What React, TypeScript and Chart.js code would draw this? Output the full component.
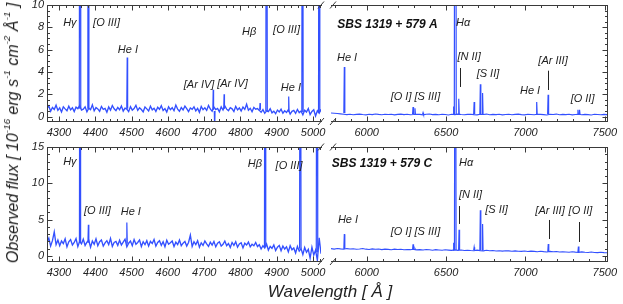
import React, { useEffect, useRef } from "react";
import { Chart, registerables } from "chart.js";
Chart.register(...registerables);

const FONT = '"Liberation Sans", Arial, Helvetica, sans-serif';
const SPEC = "#3350ff";
const INK = "#222222";
const FRAME = "#3a3a3a";

// ---------- sampling wavelengths (Å) ----------
const leftWave = [
  4267,4272,4277,4282,4287,4292,4297,4302,4307,4312,4317,4322,4327,4332,4337,4342,4347,4352,4357,4362,
  4367,4372,4377,4382,4387,4392,4397,4402,4407,4412,4417,4422,4427,4432,4437,4442,4447,4452,4457,4462,
  4467,4472,4477,4482,4487,4492,4497,4502,4507,4512,4517,4522,4527,4532,4537,4542,4547,4552,4557,4562,
  4567,4572,4577,4582,4587,4592,4597,4602,4607,4612,4617,4622,4627,4632,4637,4642,4647,4652,4657,4662,
  4667,4672,4677,4682,4687,4692,4697,4702,4707,4712,4717,4722,4727,4732,4737,4742,4747,4752,4757,4762,
  4767,4772,4777,4782,4787,4792,4797,4802,4807,4812,4817,4822,4827,4832,4837,4842,4847,
  4852,4857,4862,4867,4872,4877,4882,4887,4892,4897,4902,4907,4912,4917,4922,4927,4932,4937,4942,4947,
  4952,4957,4962,4967,4972,4977,4982,4987,4992,4997,5002,5007,5012,5017,5022,
];
const rightWave = [
  5775,5795,5815,5835,5855,5875,5895,5915,5935,5955,5975,5995,6015,6035,6055,6075,6095,6115,6135,6155,
  6175,6195,6215,6235,6255,6275,6295,6315,6335,6355,6375,6395,6415,6435,6455,6475,6495,6515,6535,6555,
  6575,6595,6615,6635,6655,6675,6695,6715,6735,6755,6775,6795,6815,6835,6855,6875,6895,6915,6935,6955,
  6975,6995,7015,7035,7055,7075,7095,7115,7135,7155,7175,7195,7215,7235,7255,7275,7295,7315,7335,7355,
  7375,7395,7415,7435,7455,7475,7495,7515,
];

// ---------- continuum flux (10^-16 erg s^-1 cm^-2 Å^-1) ----------
const fluxA_blue = [
  0.72,0.95,0.48,0.81,0.63,1.02,0.55,0.77,0.41,0.88,0.69,0.52,0.93,0.60,0.79,0.45,0.84,0.71,0.98,0.58,
  0.66,0.87,0.43,0.75,0.62,1.05,0.51,0.80,0.68,0.47,0.90,0.64,0.73,0.39,0.86,0.57,0.99,0.70,0.53,0.82,
  0.61,0.94,0.49,0.76,0.67,0.44,0.89,0.58,0.72,1.01,0.55,0.78,0.63,0.42,0.85,0.69,0.50,0.92,0.60,0.74,
  0.46,0.83,0.65,0.97,0.54,0.71,0.40,0.88,0.62,0.79,0.52,1.03,0.67,0.48,0.81,0.59,0.93,0.70,0.44,0.76,
  0.64,0.87,0.51,0.73,0.38,0.90,0.61,0.78,0.55,0.99,0.68,0.47,0.84,0.63,0.72,0.42,0.86,0.58,0.95,0.66,
  0.53,0.80,0.69,0.45,0.91,0.60,0.77,0.50,0.85,0.64,1.10,0.57,0.74,0.43,0.82,0.66,0.71,
  0.55,0.38,0.62,0.29,0.51,0.44,0.70,0.33,0.48,0.25,0.58,0.41,0.66,0.30,0.52,0.37,0.61,0.22,0.47,0.55,
  0.28,0.63,0.35,0.49,0.15,0.57,0.40,0.72,0.18,0.45,0.60,0.05,0.52,0.30,0.65,
];
const fluxA_red = [
  0.32,0.30,0.27,0.24,0.20,0.17,0.21,0.16,0.19,0.22,0.18,0.15,0.20,0.17,0.23,0.19,0.16,0.21,0.18,0.20,
  0.15,0.19,0.22,0.17,0.20,0.16,0.18,0.21,0.19,0.15,0.20,0.23,0.17,0.19,0.16,0.21,0.18,0.14,0.20,0.17,
  0.22,0.18,0.16,0.19,0.21,0.17,0.15,0.20,0.18,0.22,0.16,0.19,0.17,0.21,0.15,0.18,0.20,0.16,0.19,0.22,
  0.17,0.15,0.20,0.18,0.16,0.21,0.19,0.17,0.14,0.20,0.18,0.22,0.16,0.19,0.17,0.20,0.15,0.18,0.21,0.16,
  0.19,0.17,0.14,0.20,0.18,0.16,0.19,0.17,
];
const fluxC_blue = [
  1.90,2.45,1.35,2.10,3.30,1.55,2.20,1.40,2.05,1.70,2.35,1.25,1.95,2.25,1.50,1.85,2.40,1.30,2.00,1.65,
  2.30,1.45,1.90,2.15,1.20,2.05,1.60,2.35,1.40,1.95,2.20,1.35,1.80,2.10,1.55,2.40,1.30,1.85,2.00,1.45,
  2.15,1.50,1.90,2.30,1.25,1.75,2.05,1.40,2.25,1.60,1.85,2.20,1.30,1.95,1.55,2.10,1.35,2.00,1.70,2.25,
  1.35,1.85,2.10,1.45,1.95,1.25,2.15,1.60,1.80,2.05,1.30,1.90,1.55,2.20,1.40,1.75,2.00,1.35,1.85,2.85,
  1.30,1.95,1.55,2.10,1.20,1.80,1.45,2.05,1.65,1.30,1.90,1.50,2.00,1.25,1.75,1.95,1.35,1.60,2.05,1.40,
  1.70,1.15,1.85,1.45,1.95,1.20,1.65,1.80,1.10,1.75,1.50,1.90,1.25,1.60,1.40,1.85,1.30,
  1.55,0.95,1.40,1.10,1.65,0.80,1.30,1.05,1.50,0.75,1.20,1.45,0.70,1.35,0.95,1.25,0.55,1.40,0.85,1.10,
  0.40,1.30,0.65,1.00,0.20,1.15,0.50,0.90,-0.30,1.20,0.10,0.80,-0.60,2.50,0.30,
];
const fluxC_red = [
  1.00,0.94,1.03,0.97,0.92,1.01,0.95,0.99,0.91,0.96,1.02,0.93,0.88,0.97,0.92,0.95,0.87,0.93,0.90,0.85,
  0.94,0.88,0.91,0.84,0.89,0.86,0.92,0.83,0.87,0.81,0.88,0.85,0.79,0.86,0.82,0.78,0.84,0.80,0.76,0.83,
  0.77,0.81,0.74,0.79,0.75,0.72,0.80,0.73,0.70,0.77,0.71,0.74,0.68,0.72,0.66,0.71,0.69,0.64,0.70,0.65,
  0.62,0.68,0.60,0.66,0.63,0.58,0.64,0.59,0.55,0.62,0.57,0.60,0.53,0.58,0.55,0.51,0.57,0.52,0.49,0.55,
  0.50,0.47,0.53,0.48,0.45,0.51,0.46,0.44,
];

// ---------- emission lines: [centre Å, peak, local continuum, half-width Å] ----------
type Line = [number, number, number, number];
const linesA_blue: Line[] = [
  [4358, 60, 0.7, 2.0], [4381, 60, 0.7, 1.5], [4488, 5.3, 0.7, 1.2],
  [4725, 2.4, 0.6, 1.0], [4729, -1.2, 0.5, 1.0], [4755, 2.0, 0.7, 1.0],
  [4854, 1.2, 0.6, 1.0], [4872, 60, 0.5, 2.0], [4933, 1.8, 0.45, 1.0],
  [4971, 60, 0.4, 1.8], [5017, 60, 0.4, 1.8],
];
const linesA_red: Line[] = [
  [5859, 4.45, 0.3, 3], [6292, 0.85, 0.2, 3], [6304, 0.75, 0.2, 3], [6355, 0.35, 0.2, 3],
  [6548, 0.9, 0.2, 4], [6558, 80, 0.2, 6], [6580, 1.6, 0.2, 3], [6677, 1.3, 0.2, 3],
  [6716, 2.9, 0.2, 3], [6730, 2.1, 0.2, 3], [7071, 1.3, 0.2, 3], [7143, 1.95, 0.2, 3],
  [7331, 0.6, 0.2, 3], [7341, 0.6, 0.2, 3],
];
const linesC_blue: Line[] = [
  [4358, 80, 1.8, 1.6], [4381, 4.3, 1.8, 1.2], [4487, 4.6, 1.7, 1.2],
  [4868, 80, 1.2, 1.8], [4965, 80, 1.0, 2.0], [5011, 80, 0.5, 2.0],
];
const linesC_red: Line[] = [
  [5859, 3.0, 0.95, 3], [6292, 1.6, 0.85, 3], [6304, 1.0, 0.85, 3],
  [6548, 1.8, 0.8, 4], [6558, 80, 0.8, 5], [6582, 3.6, 0.8, 3], [6677, 1.2, 0.78, 3],
  [6716, 6.3, 0.78, 3], [6730, 4.4, 0.78, 3], [7144, 1.65, 0.58, 3], [7334, 1.3, 0.52, 3],
];

// ---------- annotations: [text, wavelength, flux] ----------
type Label = [string, number, number];
const labelsA_blue: Label[] = [
  ["Hγ", 4330, 8.39], ["[O III]", 4431, 8.39], ["He I", 4490, 5.97],
  ["[Ar IV]", 4686, 2.83], ["[Ar IV]", 4778, 2.92], ["Hβ", 4824, 7.58],
  ["[O III]", 4927, 7.76], ["He I", 4939, 2.56],
];
const labelsA_red: Label[] = [
  ["Hα", 6607, 8.39], ["He I", 5876, 5.25], ["[O I] [S III]", 6307, 1.75],
  ["[N II]", 6645, 5.34], ["[S II]", 6764, 3.81], ["He I", 7029, 2.29],
  ["[Ar III]", 7174, 4.98], ["[O II]", 7360, 1.57],
];
const labelsC_blue: Label[] = [
  ["Hγ", 4330, 12.98], ["[O III]", 4406, 6.19], ["He I", 4498, 6.05],
  ["Hβ", 4840, 12.66], ["[O III]", 4934, 12.38],
];
const labelsC_red: Label[] = [
  ["Hα", 6626, 12.8], ["He I", 5882, 4.95], ["[O I] [S III]", 6307, 3.29],
  ["[N II]", 6654, 8.39], ["[S II]", 6818, 6.32], ["[Ar III]", 7155, 6.19], ["[O II]", 7347, 6.19],
];
// marker bars: [wavelength, flux top, flux bottom]
type Marker = [number, number, number];
const markersA_red: Marker[] = [[6588, 4.35, 2.65], [7142, 4.11, 2.38]];
const markersC_red: Marker[] = [[6584, 6.87, 4.4], [7149, 4.95, 2.33], [7336, 4.67, 1.92]];
const nameA: Label = ["SBS 1319 + 579 A", 6131, 8.21];
const nameC: Label = ["SBS 1319 + 579 C", 6096, 12.66];

// ---------- axes ----------
const blueRange = [4267, 5022];
const redRange = [5775, 7514];
const blueTicks = [4300, 4400, 4500, 4600, 4700, 4800, 4900, 5000];
const redTicks = [6000, 6500, 7000, 7500];
const rangeA = [-0.4, 10];
const rangeC = [-0.7, 15];
const ticksA = [0, 2, 4, 6, 8, 10];
const ticksC = [0, 5, 10, 15];

interface PanelCfg {
  side: "left" | "right";
  wave: number[]; flux: number[]; lines: Line[];
  labels: Label[]; markers: Marker[]; name?: Label;
  xr: number[]; xTicks: number[]; xMinor: number;
  yr: number[]; yTicks: number[]; yMinor: number;
  contWidth: number;
  box: { left: number; top: number; width: number; height: number };
  pad: { left: number; right: number; top: number; bottom: number };
}

function gridValues(min: number, max: number, step: number) {
  const out: number[] = [];
  const start = Math.ceil(min / step - 1e-9);
  const end = Math.floor(max / step + 1e-9);
  for (let k = start; k <= end; k++) out.push(k * step);
  return out;
}

function framePlugin(c: PanelCfg) {
  return {
    id: "frame",
    afterDatasetsDraw(chart: any) {
      const { ctx, chartArea: a } = chart;
      const xs = chart.scales.x, ys = chart.scales.y;
      const L = Math.round(a.left) + 0.5, R = Math.round(a.right) + 0.5;
      const T = Math.round(a.top) + 0.5, B = Math.round(a.bottom) + 0.5;
      ctx.save();
      ctx.strokeStyle = FRAME;
      ctx.lineWidth = 1;
      ctx.beginPath();
      ctx.moveTo(a.left, T); ctx.lineTo(a.right + 1, T);
      ctx.moveTo(a.left, B); ctx.lineTo(a.right + 1, B);
      if (c.side === "left") { ctx.moveTo(L, a.top); ctx.lineTo(L, a.bottom + 1); }
      else { ctx.moveTo(R, a.top); ctx.lineTo(R, a.bottom + 1); }
      const minX = gridValues(c.xr[0], c.xr[1], c.xMinor);
      minX.forEach((v) => {
        const px = Math.round(xs.getPixelForValue(v)) + 0.5;
        const len = c.xTicks.some((m) => Math.abs(m - v) < 1e-6) ? 5 : 2.5;
        ctx.moveTo(px, B); ctx.lineTo(px, B - len);
        ctx.moveTo(px, T); ctx.lineTo(px, T + len);
      });
      const minY = gridValues(c.yr[0], c.yr[1], c.yMinor);
      minY.forEach((v) => {
        const py = Math.round(ys.getPixelForValue(v)) + 0.5;
        const len = c.yTicks.some((m) => Math.abs(m - v) < 1e-6) ? 5 : 2.5;
        if (c.side === "left") { ctx.moveTo(L, py); ctx.lineTo(L + len, py); }
        else { ctx.moveTo(R, py); ctx.lineTo(R - len, py); }
      });
      ctx.stroke();
      // axis break marks
      ctx.beginPath();
      const bx = c.side === "left" ? a.right : a.left + 2;
      [a.top, a.bottom + 0.5].forEach((yy) => {
        ctx.moveTo(bx - 3, yy + 3.5); ctx.lineTo(bx + 3, yy - 3.5);
      });
      ctx.stroke();
      // marker bars
      ctx.strokeStyle = INK;
      ctx.beginPath();
      c.markers.forEach(([w, f1, f2]) => {
        const px = Math.round(xs.getPixelForValue(w)) + 0.5;
        ctx.moveTo(px, ys.getPixelForValue(f1)); ctx.lineTo(px, ys.getPixelForValue(f2));
      });
      ctx.stroke();
      // labels
      ctx.fillStyle = INK;
      ctx.textAlign = "center";
      ctx.textBaseline = "middle";
      ctx.font = `italic 11px ${FONT}`;
      c.labels.forEach(([t, w, f]) => ctx.fillText(t, xs.getPixelForValue(w), ys.getPixelForValue(f)));
      if (c.name) {
        ctx.font = `italic bold 12px ${FONT}`;
        ctx.fillStyle = "#111";
        ctx.fillText(c.name[0], xs.getPixelForValue(c.name[1]), ys.getPixelForValue(c.name[2]));
      }
      ctx.restore();
    },
  };
}

function makeConfig(c: PanelCfg): any {
  const base = { borderColor: SPEC, borderWidth: 1, pointRadius: 0, tension: 0, fill: false };
  const datasets = [
    { ...base, borderWidth: c.contWidth, data: c.wave.map((w, i) => ({ x: w, y: c.flux[i] })) },
    ...c.lines.map(([ctr, peak, cont, hw]) => ({
      ...base,
      borderWidth: 1.2,
      data: [{ x: ctr - hw, y: cont }, { x: ctr, y: peak }, { x: ctr + hw, y: cont }],
    })),
  ];
  const tickFont = { family: FONT, size: 11, style: "italic" as const };
  return {
    type: "line",
    data: { datasets },
    options: {
      responsive: false,
      animation: false,
      events: [],
      layout: { padding: c.pad },
      plugins: { legend: { display: false }, tooltip: { enabled: false }, title: { display: false } },
      scales: {
        x: {
          type: "linear", position: "bottom", min: c.xr[0], max: c.xr[1],
          grid: { display: false, drawTicks: false }, border: { display: false },
          ticks: {
            autoSkip: false, maxRotation: 0, minRotation: 0,
            padding: 5, color: INK, font: tickFont, callback: (v: number) => String(v),
          },
          afterBuildTicks: (s: any) => { s.ticks = c.xTicks.map((v) => ({ value: v })); },
          afterFit: (s: any) => { s.height = 29; s.paddingLeft = 0; s.paddingRight = 0; },
        },
        y: {
          type: "linear", position: "left", display: c.side === "left",
          min: c.yr[0], max: c.yr[1],
          grid: { display: false, drawTicks: false }, border: { display: false },
          ticks: { padding: 3, color: INK, font: tickFont, callback: (v: number) => String(v) },
          afterBuildTicks: (s: any) => { s.ticks = c.yTicks.map((v) => ({ value: v })); },
          afterFit: (s: any) => {
            s.width = c.side === "left" ? 47 : 0;
            s.paddingTop = 0; s.paddingBottom = 0;
          },
        },
      },
    },
    plugins: [framePlugin(c)],
  };
}

function Panel({ cfg }: { cfg: PanelCfg }) {
  const ref = useRef<HTMLCanvasElement>(null);
  useEffect(() => {
    const chart = new Chart(ref.current as HTMLCanvasElement, makeConfig(cfg));
    return () => chart.destroy();
  }, []);
  const b = cfg.box;
  return (
    <canvas
      ref={ref}
      width={b.width}
      height={b.height}
      style={{ position: "absolute", left: b.left, top: b.top, width: b.width, height: b.height }}
    />
  );
}

const panels: PanelCfg[] = [
  {
    side: "left", wave: leftWave, flux: fluxA_blue, lines: linesA_blue, labels: labelsA_blue, markers: [],
    xr: blueRange, xTicks: blueTicks, xMinor: 20, yr: rangeA, yTicks: ticksA, yMinor: 0.5, contWidth: 1.35,
    box: { left: 0, top: 0, width: 330, height: 150 }, pad: { left: 0, right: 9, top: 5, bottom: 0 },
  },
  {
    side: "right", wave: rightWave, flux: fluxA_red, lines: linesA_red, labels: labelsA_red,
    markers: markersA_red, name: nameA, contWidth: 1.1,
    xr: redRange, xTicks: redTicks, xMinor: 100, yr: rangeA, yTicks: ticksA, yMinor: 0.5,
    box: { left: 320, top: 0, width: 303, height: 150 }, pad: { left: 11, right: 16, top: 5, bottom: 0 },
  },
  {
    side: "left", wave: leftWave, flux: fluxC_blue, lines: linesC_blue, labels: labelsC_blue, markers: [],
    xr: blueRange, xTicks: blueTicks, xMinor: 20, yr: rangeC, yTicks: ticksC, yMinor: 1, contWidth: 1.35,
    box: { left: 0, top: 140, width: 330, height: 150 }, pad: { left: 0, right: 9, top: 7, bottom: 0 },
  },
  {
    side: "right", wave: rightWave, flux: fluxC_red, lines: linesC_red, labels: labelsC_red,
    markers: markersC_red, name: nameC, contWidth: 1.1,
    xr: redRange, xTicks: redTicks, xMinor: 100, yr: rangeC, yTicks: ticksC, yMinor: 1,
    box: { left: 320, top: 140, width: 303, height: 150 }, pad: { left: 11, right: 16, top: 7, bottom: 0 },
  },
];

const sup: React.CSSProperties = { fontSize: "62%", position: "relative", top: "-0.85em" };

export default function App() {
  return (
    <div style={{ position: "fixed", left: 0, top: 0, width: 623, height: 304, background: "#fff", overflow: "hidden" }}>
      {panels.map((p, i) => <Panel key={i} cfg={p} />)}
      <div
        style={{
          position: "absolute", left: 14, top: 133, transform: "translate(-50%, -50%) rotate(-90deg)",
          whiteSpace: "nowrap", font: `italic 16px ${FONT}`, color: INK, lineHeight: "18px",
        }}
      >
        Observed flux [ 10<span style={sup}>-16</span> erg s<span style={sup}>-1</span> cm<span style={sup}>-2</span> Å<span style={sup}>-1</span> ]
      </div>
      <div
        style={{
          position: "absolute", left: 330, top: 292, transform: "translate(-50%, -50%)",
          whiteSpace: "nowrap", font: `italic 17px ${FONT}`, color: INK, lineHeight: "20px",
        }}
      >
        Wavelength [ Å ]
      </div>
    </div>
  );
}
